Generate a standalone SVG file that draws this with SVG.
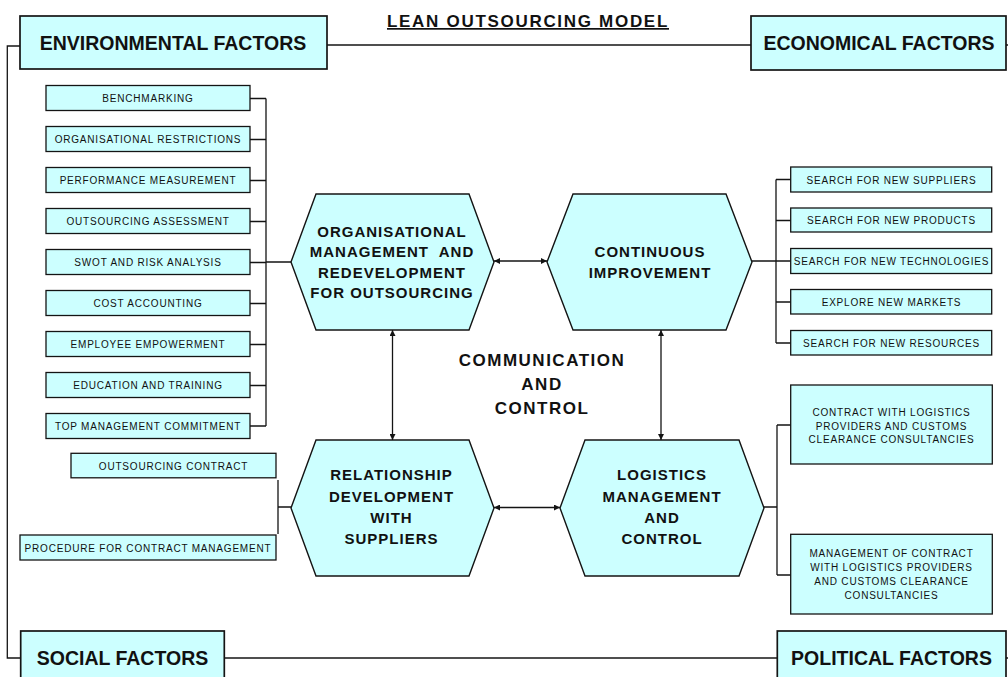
<svg xmlns="http://www.w3.org/2000/svg" width="1008" height="677" viewBox="0 0 1008 677">
  <style>
    .box { fill: #CCFFFF; stroke: #141414; stroke-width: 1.3; }
    .big { fill: #CCFFFF; stroke: #141414; stroke-width: 1.7; }
    .hex { fill: #CCFFFF; stroke: #141414; stroke-width: 1.4; }
    .ln { fill: none; stroke: #141414; stroke-width: 1.3; }
    .arr { fill: none; stroke: #141414; stroke-width: 1.3; marker-start: url(#head); marker-end: url(#head); }
    .fx { font-family: "Liberation Sans", Arial, sans-serif; font-weight: bold; font-size: 19.5px; fill: #111; text-anchor: middle; }
    .sm { font-family: "Liberation Sans", Arial, sans-serif; font-size: 10px; letter-spacing: 0.8px; fill: #111; text-anchor: middle; }
    .hx { font-family: "Liberation Sans", Arial, sans-serif; font-weight: bold; font-size: 15px; letter-spacing: 1px; fill: #111; text-anchor: middle; }
    .cc { font-family: "Liberation Sans", Arial, sans-serif; font-weight: bold; font-size: 17px; letter-spacing: 1.5px; fill: #111; text-anchor: middle; }
    .title { font-family: "Liberation Sans", Arial, sans-serif; font-weight: bold; font-size: 17px; letter-spacing: 1.7px; fill: #111; text-anchor: middle; text-decoration: underline; }
  </style>
  <defs>
    <marker id="head" viewBox="0 0 10 10" refX="10" refY="5" markerWidth="7" markerHeight="6" markerUnits="userSpaceOnUse" orient="auto-start-reverse">
      <path d="M0,0 L10,5 L0,10 Z" fill="#141414"/>
    </marker>
  </defs>
  <rect width="1008" height="677" fill="#FFFFFF"/>

  <text class="title" x="528" y="27">LEAN OUTSOURCING MODEL</text>

  <!-- connectors -->
  <g id="connectors">
    <!-- outer frame linking the four factor boxes -->
    <path class="ln" d="M20,46 H7.3 V658 H20.7"/>
    <path class="ln" d="M327,45 H751"/>
    <path class="ln" d="M225,658 H777"/>
    <path class="ln" d="M1006,45 H1008 M1006,658 H1008"/>
    <!-- left list bus -->
    <path class="ln" d="M250,98.5 H266 M250,139.5 H266 M250,180.5 H266 M250,221.5 H266 M250,262.5 H266 M250,303.5 H266 M250,344.5 H266 M250,385.5 H266 M250,426 H266 M266,98.5 V426 M266,262 H291"/>
    <!-- contract bus -->
    <path class="ln" d="M278,480 V534 M278,507 H291"/>
    <!-- right list bus -->
    <path class="ln" d="M752,261 H791 M776,179.5 V343 M776,179.5 H791 M776,220.5 H791 M776,302 H791 M776,343 H791"/>
    <!-- logistics bus -->
    <path class="ln" d="M764,507 H777 M777,425 V575 M777,425 H791 M777,575 H791"/>
    <!-- arrows between the four core activities -->
    <path class="arr" d="M494,261 H547"/>
    <path class="arr" d="M494,507.5 H560"/>
    <path class="arr" d="M392.5,330 V440"/>
    <path class="arr" d="M661,330 V440"/>
  </g>

  <!-- factor boxes -->
  <g id="environmental">
    <rect class="big" x="20" y="16" width="307" height="53"/>
    <text class="fx" x="173" y="50">ENVIRONMENTAL FACTORS</text>
  </g>
  <g id="economical">
    <rect class="big" x="751" y="16" width="255" height="54"/>
    <text class="fx" x="879" y="50">ECONOMICAL FACTORS</text>
  </g>
  <g id="social">
    <rect class="big" x="20.7" y="631" width="203.6" height="54"/>
    <text class="fx" x="122.5" y="664.5">SOCIAL FACTORS</text>
  </g>
  <g id="political">
    <rect class="big" x="777.3" y="631" width="228.7" height="54"/>
    <text class="fx" x="891.5" y="665">POLITICAL FACTORS</text>
  </g>

  <!-- left list -->
  <g id="benchmarking"><rect class="box" x="46" y="85.5" width="204" height="25"/><text class="sm" x="148" y="102">BENCHMARKING</text></g>
  <g id="org-restrictions"><rect class="box" x="46" y="126.5" width="204" height="25"/><text class="sm" x="148" y="143">ORGANISATIONAL RESTRICTIONS</text></g>
  <g id="performance"><rect class="box" x="46" y="167.5" width="204" height="25"/><text class="sm" x="148" y="184">PERFORMANCE MEASUREMENT</text></g>
  <g id="assessment"><rect class="box" x="46" y="208.5" width="204" height="25"/><text class="sm" x="148" y="225">OUTSOURCING ASSESSMENT</text></g>
  <g id="swot"><rect class="box" x="46" y="249.5" width="204" height="25"/><text class="sm" x="148" y="266">SWOT AND RISK ANALYSIS</text></g>
  <g id="cost"><rect class="box" x="46" y="290.5" width="204" height="25"/><text class="sm" x="148" y="307">COST ACCOUNTING</text></g>
  <g id="empowerment"><rect class="box" x="46" y="331.5" width="204" height="25"/><text class="sm" x="148" y="348">EMPLOYEE EMPOWERMENT</text></g>
  <g id="education"><rect class="box" x="46" y="372.5" width="204" height="25"/><text class="sm" x="148" y="389">EDUCATION AND TRAINING</text></g>
  <g id="commitment"><rect class="box" x="46" y="413.5" width="204" height="25"/><text class="sm" x="148" y="430">TOP MANAGEMENT COMMITMENT</text></g>

  <g id="outsourcing-contract"><rect class="box" x="71" y="453.3" width="205" height="24.5"/><text class="sm" x="173.5" y="470">OUTSOURCING CONTRACT</text></g>
  <g id="procedure"><rect class="box" x="20" y="535" width="256" height="25"/><text class="sm" x="148" y="551.5">PROCEDURE FOR CONTRACT MANAGEMENT</text></g>

  <!-- right list -->
  <g id="suppliers"><rect class="box" x="790.7" y="167" width="201" height="25"/><text class="sm" x="891.5" y="183.5">SEARCH FOR NEW SUPPLIERS</text></g>
  <g id="products"><rect class="box" x="790.7" y="208" width="201" height="24"/><text class="sm" x="891.5" y="224">SEARCH FOR NEW PRODUCTS</text></g>
  <g id="technologies"><rect class="box" x="790.7" y="248.5" width="201" height="25"/><text class="sm" x="891.5" y="265">SEARCH FOR NEW TECHNOLOGIES</text></g>
  <g id="markets"><rect class="box" x="790.7" y="289.5" width="201" height="24.5"/><text class="sm" x="891.5" y="306">EXPLORE NEW MARKETS</text></g>
  <g id="resources"><rect class="box" x="790.7" y="330.5" width="201" height="24.5"/><text class="sm" x="891.5" y="347">SEARCH FOR NEW RESOURCES</text></g>

  <g id="logistics-contract">
    <rect class="box" x="790.7" y="385" width="201.6" height="79"/>
    <text class="sm" x="891.5" y="416">CONTRACT WITH LOGISTICS</text>
    <text class="sm" x="891.5" y="429.5">PROVIDERS AND CUSTOMS</text>
    <text class="sm" x="891.5" y="443">CLEARANCE CONSULTANCIES</text>
  </g>
  <g id="contract-management">
    <rect class="box" x="790.7" y="534.3" width="201.6" height="79.7"/>
    <text class="sm" x="891.5" y="557">MANAGEMENT OF CONTRACT</text>
    <text class="sm" x="891.5" y="571">WITH LOGISTICS PROVIDERS</text>
    <text class="sm" x="891.5" y="585">AND CUSTOMS CLEARANCE</text>
    <text class="sm" x="891.5" y="599">CONSULTANCIES</text>
  </g>

  <!-- core activities -->
  <g id="organisational">
    <polygon class="hex" points="316,194 469,194 494,262 469,330 316,330 291,262"/>
    <text class="hx" x="392" y="236.7">ORGANISATIONAL</text>
    <text class="hx" x="392" y="257" xml:space="preserve">MANAGEMENT  AND</text>
    <text class="hx" x="392" y="277.5">REDEVELOPMENT</text>
    <text class="hx" x="392" y="298">FOR OUTSOURCING</text>
  </g>
  <g id="continuous">
    <polygon class="hex" points="573,194 726,194 752,262 726,330 573,330 547,262"/>
    <text class="hx" x="650" y="257">CONTINUOUS</text>
    <text class="hx" x="650" y="277.5">IMPROVEMENT</text>
  </g>
  <g id="relationship">
    <polygon class="hex" points="316,440 469,440 494,508 469,576 316,576 291,508"/>
    <text class="hx" x="391.5" y="480">RELATIONSHIP</text>
    <text class="hx" x="391.5" y="501.5">DEVELOPMENT</text>
    <text class="hx" x="391.5" y="522.7">WITH</text>
    <text class="hx" x="391.5" y="544">SUPPLIERS</text>
  </g>
  <g id="logistics">
    <polygon class="hex" points="585,440 739,440 764,508 739,576 585,576 560,508"/>
    <text class="hx" x="662" y="480">LOGISTICS</text>
    <text class="hx" x="662" y="501.5">MANAGEMENT</text>
    <text class="hx" x="662" y="522.7">AND</text>
    <text class="hx" x="662" y="544">CONTROL</text>
  </g>

  <g id="communication">
    <text class="cc" x="542" y="366">COMMUNICATION</text>
    <text class="cc" x="542" y="390">AND</text>
    <text class="cc" x="542" y="413.5">CONTROL</text>
  </g>
</svg>
